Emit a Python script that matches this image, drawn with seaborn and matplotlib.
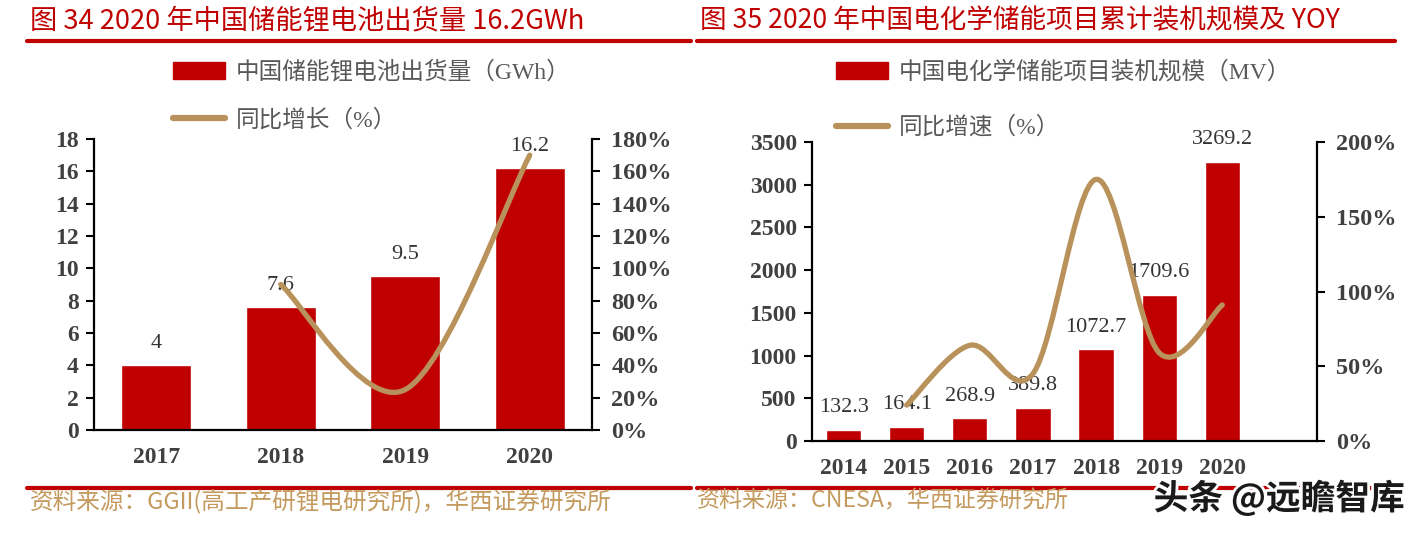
import numpy as np
import matplotlib
matplotlib.use('Agg')
import matplotlib.pyplot as plt
import seaborn as sns
from matplotlib.path import Path
from matplotlib.patches import PathPatch, Rectangle
from matplotlib.lines import Line2D
import matplotlib.patheffects as pe

# --- data: 图34 ---
years_l = ['2017', '2018', '2019', '2020']
shipments = [4, 7.6, 9.5, 16.2]
growth_years_l = ['2018', '2019', '2020']
growth_l = [90, 25, 170]

# --- data: 图35 ---
years_r = ['2014', '2015', '2016', '2017', '2018', '2019', '2020']
capacity = [132.3, 164.1, 268.9, 389.8, 1072.7, 1709.6, 3269.2]
growth_years_r = ['2015', '2016', '2017', '2018', '2019', '2020']
growth_r = [24, 64, 45, 175, 59, 91]

RED = '#C00000'
TAN = '#B8925A'
GOLD = '#C49A5E'
TICK = '#404040'
W, H = 1420, 534

sns.set_theme(style='white')
plt.rcParams['font.family'] = ['Liberation Serif', 'Noto Sans CJK SC']
CJK = ['Noto Sans CJK SC', 'DejaVu Sans']
SERIF_CJK = ['Liberation Serif', 'Noto Sans CJK SC']


def px(x0, y_top, x1, y_bot):
    # pixel box -> figure fraction rect
    return [x0 / W, 1 - y_bot / H, (x1 - x0) / W, (y_bot - y_top) / H]


def smooth_line(ax, xs, ys, **kw):
    # Excel-like smoothed line: Catmull-Rom segments as cubic Beziers
    p = np.column_stack([xs, ys]).astype(float)
    ext = np.vstack([p[0], p, p[-1]])
    verts = [p[0]]
    codes = [Path.MOVETO]
    for i in range(1, len(ext) - 2):
        c1 = ext[i] + (ext[i + 1] - ext[i - 1]) / 6
        c2 = ext[i + 1] - (ext[i + 2] - ext[i]) / 6
        verts += [c1, c2, ext[i + 1]]
        codes += [Path.CURVE4] * 3
    ax.add_patch(PathPatch(Path(verts, codes), fill=False, **kw))


def panel(rect, cats, vals, gcats, gvals, ymax, ystep, gmax, gstep, nslots):
    ax = fig.add_axes(rect)
    sns.barplot(x=cats, y=vals, color=RED, saturation=1, width=0.56, ax=ax)
    ax.set_xlim(-0.5, nslots - 0.5)
    ax.set_ylim(0, ymax)
    ax.set_yticks(np.arange(0, ymax + 1, ystep))
    ax.bar_label(ax.containers[0], fmt='%g', padding=9, fontsize=16, color='#333333')

    ax2 = ax.twinx()
    ax2.set_ylim(0, gmax)
    ax2.set_yticks(np.arange(0, gmax + 1, gstep))
    ax2.set_yticklabels([f'{v}%' for v in np.arange(0, gmax + 1, gstep)])
    gx = [cats.index(c) for c in gcats]
    smooth_line(ax2, gx, gvals, edgecolor=TAN, lw=3.8, capstyle='round')

    for a in (ax, ax2):
        for s in a.spines.values():
            s.set_visible(False)
        a.grid(False)
        a.set_xlabel('')
        a.set_ylabel('')
    for side in ('left', 'bottom'):
        ax.spines[side].set_visible(True)
        ax.spines[side].set_color('black')
        ax.spines[side].set_linewidth(1.6)
    ax2.spines['right'].set_visible(True)
    ax2.spines['right'].set_color('black')
    ax2.spines['right'].set_linewidth(1.6)

    ax.tick_params(axis='y', left=True, direction='out', length=6, width=1.5,
                   color='black', pad=5, labelsize=17, labelcolor=TICK)
    ax.tick_params(axis='x', length=0, pad=12, labelsize=17, labelcolor=TICK)
    ax2.tick_params(axis='y', right=True, direction='out', length=6, width=1.5,
                    color='black', pad=8, labelsize=17.5, labelcolor=TICK)
    for lab in ax.get_xticklabels() + ax.get_yticklabels() + ax2.get_yticklabels():
        lab.set_fontweight('bold')
    return ax, ax2


fig = plt.figure(figsize=(W / 100, H / 100), dpi=100)

panel(px(94, 139, 592, 430), years_l, shipments, growth_years_l, growth_l,
      18, 2, 180, 20, 4)
panel(px(812, 142, 1317, 441), years_r, capacity, growth_years_r, growth_r,
      3500, 500, 200, 50, 8)

# titles and rules
fig.text(30 / W, 1 - 21 / H, '图 34 2020 年中国储能锂电池出货量 16.2GWh', color=RED,
         fontsize=19.6, family=CJK, va='center')
fig.text(700 / W, 1 - 21 / H, '图 35 2020 年中国电化学储能项目累计装机规模及 YOY', color=RED,
         fontsize=19.2, family=CJK, va='center')
for x0, x1 in ((27, 691), (697, 1395)):
    for y in (41, 488):
        fig.add_artist(Line2D([x0 / W, x1 / W], [1 - y / H] * 2, color=RED, lw=3,
                              transform=fig.transFigure))

# legends
handles = [Rectangle((0, 0), 1, 1, color=RED),
           Line2D([], [], color=TAN, lw=4.5, solid_capstyle='round')]
fig.legend(handles, ['中国储能锂电池出货量（GWh）', '同比增长（%）'],
           loc='upper left', bbox_to_anchor=(173 / W, 1 - 61 / H), frameon=False,
           prop={'family': SERIF_CJK, 'size': 17}, labelcolor='#595959',
           handlelength=2.2, handleheight=0.7, handletextpad=0.45,
           labelspacing=1.06, borderpad=0, borderaxespad=0)
fig.legend(handles, ['中国电化学储能项目装机规模（MV）', '同比增速（%）'],
           loc='upper left', bbox_to_anchor=(836 / W, 1 - 61 / H), frameon=False,
           prop={'family': SERIF_CJK, 'size': 17}, labelcolor='#595959',
           handlelength=2.2, handleheight=0.7, handletextpad=0.45,
           labelspacing=1.38, borderpad=0, borderaxespad=0)

# sources
fig.text(30 / W, 1 - 501 / H, '资料来源：GGII(高工产研锂电研究所)，华西证券研究所', color=GOLD,
         fontsize=17, family=CJK, va='center')
fig.text(697 / W, 1 - 501 / H, '资料来源：CNESA，华西证券研究所', color=GOLD,
         fontsize=16.6, family=CJK, va='center')
fig.text(1405 / W, 1 - 498 / H, '头条 @远瞻智库', color='#1a1a1a', fontsize=25,
         family=CJK, fontweight='bold', ha='right', va='center',
         path_effects=[pe.withStroke(linewidth=4, foreground='white')])

fig.savefig('out.png', dpi=100)
